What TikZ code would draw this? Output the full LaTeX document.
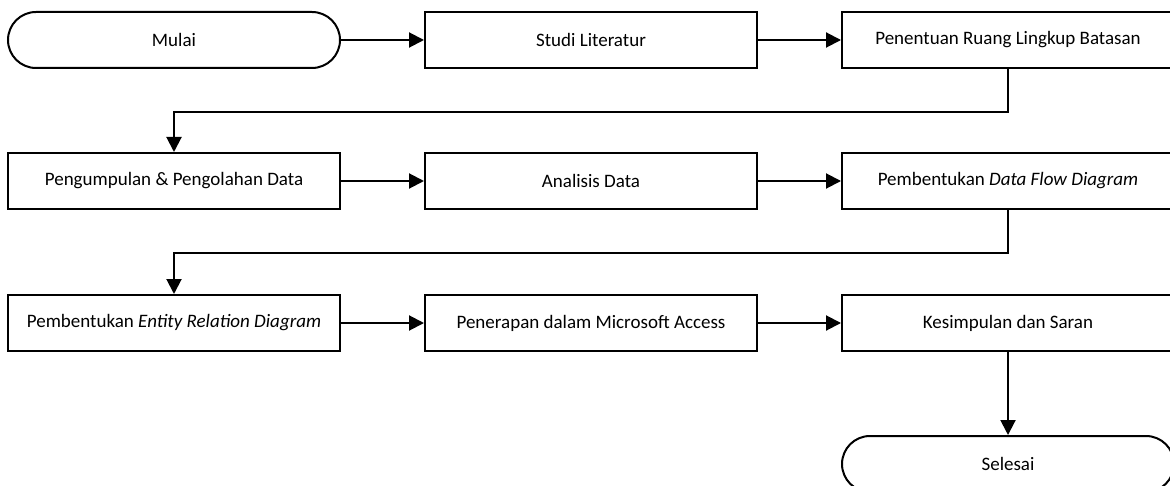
\documentclass[tikz,border=0pt]{standalone}
\usepackage{fontspec}
\setmainfont{Carlito}
\usepackage{tikz}
\usetikzlibrary{arrows.meta,calc}

\begin{document}
\begin{tikzpicture}[x=0.5pt,y=-0.5pt,line width=1pt,
        proc/.style={draw,minimum width=166pt,minimum height=28pt,inner sep=0pt,font=\fontsize{9.5}{11}\selectfont},
        term/.style={proc,rounded corners=14pt},
        flow/.style={-{Triangle[length=7.5pt,width=7.5pt]}}]
        \useasboundingbox (0,0) rectangle (1170,486);
        \node[term] (mulai) at (174,40) {Mulai};
        \node[proc] (studi) at (591,40) {Studi Literatur};
        \node[proc] (ruang) at (1008,40) {Penentuan Ruang Lingkup Batasan};
        \node[proc] (kumpul) at (174,181) {Pengumpulan \& Pengolahan Data};
        \node[proc] (analisis) at (591,181) {Analisis Data};
        \node[proc] (dfd) at (1008,181) {Pembentukan \textit{Data Flow Diagram}};
        \node[proc] (erd) at (174,323) {Pembentukan \textit{Entity Relation Diagram}};
        \node[proc] (access) at (591,323) {Penerapan dalam Microsoft Access};
        \node[proc] (saran) at (1008,323) {Kesimpulan dan Saran};
        \node[term] (selesai) at (1008,464) {Selesai};
        \draw[flow] (mulai) -- (studi);
        \draw[flow] (studi) -- (ruang);
        \draw[flow] (ruang.south) -- ++(0,43) -| (kumpul.north);
        \draw[flow] (kumpul) -- (analisis);
        \draw[flow] (analisis) -- (dfd);
        \draw[flow] (dfd.south) -- ++(0,43) -| (erd.north);
        \draw[flow] (erd) -- (access);
        \draw[flow] (access) -- (saran);
        \draw[flow] (saran) -- (selesai);
    \end{tikzpicture}
\end{document}
